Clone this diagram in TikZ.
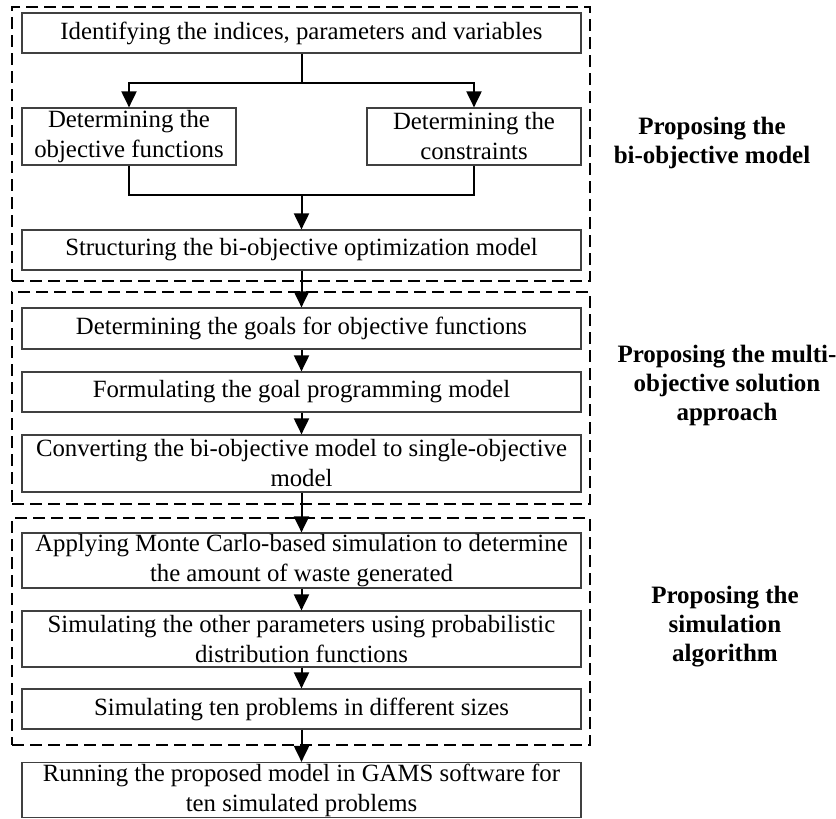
\documentclass[tikz,border=0pt]{standalone}
\usepackage{fontspec}
\setmainfont{Liberation Serif}
\usetikzlibrary{arrows.meta,positioning}
\tikzset{
    stepbox/.style={draw=black!75, line width=1.2pt, fill=white, minimum width=559pt,
        inner sep=1pt, align=center, font=\fontsize{24.8}{30}\selectfont},
    halfbox/.style={stepbox, minimum width=214pt},
    groupframe/.style={draw, dash pattern=on 12pt off 6pt, line width=1.6pt,
        minimum width=578pt, inner sep=0pt},
    phaselabel/.style={align=center, font=\fontsize{25}{29}\selectfont\bfseries},
    flow/.style={line width=2pt, -{Triangle[length=16pt,width=15pt]}},
    link/.style={line width=2pt}
}
\begin{document}
\begin{tikzpicture}[x=1pt,y=-1pt]
    \useasboundingbox (0,0) rectangle (836,819);

    % Dashed groups
    \node[groupframe, minimum height=274pt] (group1) at (301,144) {};
    \node[groupframe, minimum height=212pt] (group2) at (301,398) {};
    \node[groupframe, minimum height=227pt] (group3) at (301,631.5) {};

    % Bi-objective model
    \node[stepbox, minimum height=40pt] (ident) at (301.5,33) {Identifying the indices, parameters and variables};
    \node[halfbox, minimum height=57pt] (objfun) at (129,136.5) {Determining the\\objective functions};
    \node[halfbox, minimum height=57pt] (constr) at (474,136.5) {Determining the\\constraints};
    \node[stepbox, minimum height=40pt] (struct) at (301.5,250) {Structuring the bi-objective optimization model};

    % Solution approach
    \node[stepbox, minimum height=41pt] (goals) at (301.5,328.5) {Determining the goals for objective functions};
    \node[stepbox, minimum height=40pt] (formul) at (301.5,392) {Formulating the goal programming model};
    \node[stepbox, minimum height=57pt] (convert) at (301.5,463.5) {Converting the bi-objective model to single-objective\\model};

    % Simulation
    \node[stepbox, minimum height=55pt] (monte) at (301.5,560.5) {Applying Monte Carlo-based simulation to determine\\the amount of waste generated};
    \node[stepbox, minimum height=56pt] (simpar) at (301.5,639) {Simulating the other parameters using probabilistic\\distribution functions};
    \node[stepbox, minimum height=40pt] (simten) at (301.5,709) {Simulating ten problems in different sizes};
    \node[stepbox, minimum height=55pt] (running) at (301.5,790) {Running the proposed model in GAMS software for\\ten simulated problems};

    % Split and join
    \coordinate (split) at (301.5,83);
    \coordinate (join) at (301.5,195);
    \draw[link] (ident.south) -- (split);
    \draw[flow] (split) -| (objfun.north);
    \draw[flow] (split) -| (constr.north);
    \draw[link] (objfun.south) |- (join) -| (constr.south);
    \draw[flow] (join) -- (struct.north);

    % Arrows
    \draw[flow] (struct.south) -- (goals.north);
    \draw[flow] (goals.south) -- (formul.north);
    \draw[flow] (formul.south) -- (convert.north);
    \draw[flow] (convert.south) -- (monte.north);
    \draw[flow] (monte.south) -- (simpar.north);
    \draw[flow] (simpar.south) -- (simten.north);
    \draw[flow] (simten.south) -- (running.north);

    % Labels
    \node[phaselabel] (phase1) at (712,143) {Proposing the\\bi-objective model};
    \node[phaselabel] (phase2) at (727,385) {Proposing the multi-\\objective solution\\approach};
    \node[phaselabel] (phase3) at (725,627) {Proposing the\\simulation\\algorithm};
\end{tikzpicture}
\end{document}
